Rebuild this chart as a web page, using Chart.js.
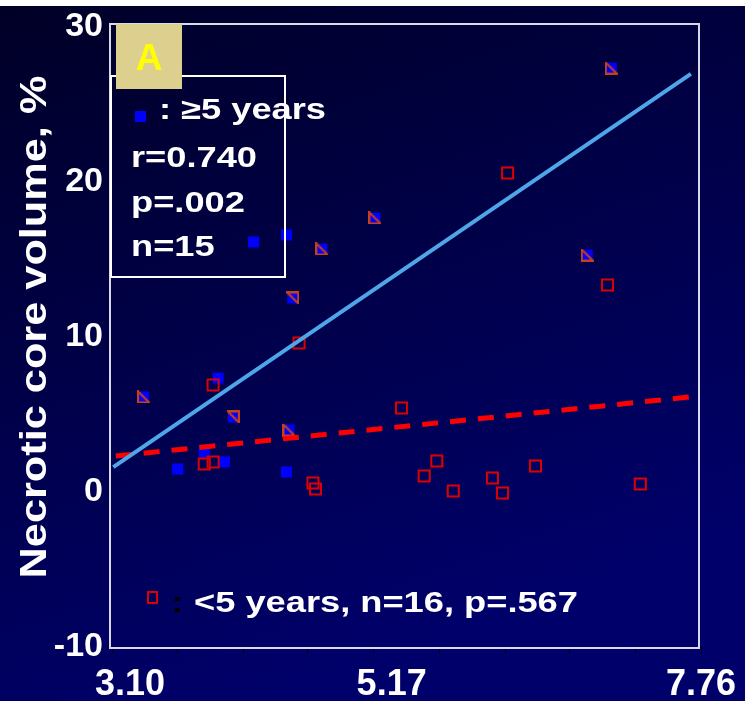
<!DOCTYPE html>
<html>
<head>
<meta charset="utf-8">
<script src="https://cdn.jsdelivr.net/npm/chart.js@4/dist/chart.umd.min.js"></script>
<style>
  html, body { margin: 0; padding: 0; background: #000030; }
  #wrap { width: 745px; height: 701px; }
</style>
</head>
<body>
<div id="wrap"><canvas id="myChart" width="745" height="701"></canvas></div>
<script>
// >=5 years group (blue filled squares)
const longX = [7.05, 5.18, 4.76, 4.22, 4.48, 4.53, 6.86, 3.94, 3.35, 4.06, 4.50, 3.83, 3.99, 3.62, 4.48];
const longY = [27.35, 17.68, 15.68, 16.13, 16.58, 12.52, 15.29, 7.35, 6.13, 4.84, 4.00, 2.58, 1.94, 1.48, 1.29];
// marker overlay seen on some of the blue squares
const longMark = ["LL", "LL", "LL", "", "", "UR", "LL", "", "LL", "UR", "LL", "", "", "", ""];

// <5 years group (red open squares)
const shortX = [6.23, 7.02, 4.58, 3.90, 5.39, 3.83, 3.90, 4.69, 4.71, 5.57, 5.67, 5.80, 6.11, 6.19, 6.45, 7.28];
const shortY = [20.58, 13.35, 9.61, 6.90, 5.42, 1.81, 1.94, 0.58, 0.19, 1.03, 2.00, 0.06, 0.90, -0.06, 1.68, 0.52];

// regression lines (end points)
const fitLongX = [3.11, 7.68];
const fitLongY = [1.61, 26.97];
const fitShortX = [3.13, 7.67];
const fitShortY = [2.32, 6.13];

// axis ticks
const xTicks = [3.10, 3.62, 4.14, 4.65, 5.17, 5.69, 6.21, 6.72, 7.24, 7.76];
const xTickLabels = ["3.10", "5.17", "7.76"];
const yTicks = [-10, 0, 10, 20, 30];

const FONT = "'Liberation Sans', Arial, sans-serif";

function toPts(xs, ys) {
  return xs.map((x, i) => ({ x: x, y: ys[i] }));
}

function markCanvas(kind) {
  const c = document.createElement("canvas");
  c.width = 13; c.height = 13;
  const g = c.getContext("2d");
  g.fillStyle = "#0000ff";
  g.fillRect(1, 1, 11, 11);
  g.strokeStyle = "#c8401a";
  g.lineWidth = 2;
  g.beginPath();
  if (kind === "LL") {
    g.moveTo(1, 1); g.lineTo(1, 12); g.lineTo(12, 12);
  } else {
    g.moveTo(1, 1); g.lineTo(12, 1); g.lineTo(12, 12);
  }
  g.closePath();
  g.stroke();
  return c;
}
const markLL = markCanvas("LL");
const markUR = markCanvas("UR");
const longStyles = longMark.map(m => m === "LL" ? markLL : (m === "UR" ? markUR : "rect"));

function stretchText(ctx, text, x, y, sx, color) {
  ctx.save();
  ctx.translate(x, y);
  ctx.scale(sx, 1);
  ctx.fillStyle = color;
  ctx.fillText(text, 0, 0);
  ctx.restore();
}

const decor = {
  id: "decor",
  beforeDraw(chart) {
    const ctx = chart.ctx;
    const grad = ctx.createLinearGradient(0, 0, 250, 701);
    grad.addColorStop(0, "#000026");
    grad.addColorStop(1, "#00006a");
    ctx.save();
    ctx.fillStyle = grad;
    ctx.fillRect(0, 0, chart.width, chart.height);
    ctx.fillStyle = "#ffffff";
    ctx.fillRect(0, 0, chart.width, 6);
    ctx.restore();
  },
  afterDraw(chart) {
    const ctx = chart.ctx;
    const a = chart.chartArea;
    ctx.save();
    // plot frame (sits slightly off the data area, as in the original)
    ctx.strokeStyle = "#d8d8e8";
    ctx.lineWidth = 2;
    ctx.strokeRect(a.left - 2, a.top - 3, a.right - a.left, a.bottom - a.top + 4);

    // legend box
    ctx.strokeStyle = "#ffffff";
    ctx.lineWidth = 2;
    ctx.strokeRect(111, 76, 174, 201);

    // panel label
    ctx.fillStyle = "#ddd08f";
    ctx.fillRect(116, 24, 66, 65);
    ctx.font = "bold 37px " + FONT;
    ctx.fillStyle = "#ffff00";
    ctx.textAlign = "center";
    ctx.textBaseline = "alphabetic";
    ctx.fillText("A", 149, 70);

    // legend texts
    ctx.textAlign = "left";
    ctx.font = "bold 29px " + FONT;
    ctx.fillStyle = "#0000ff";
    ctx.fillRect(135, 111, 11, 11);
    stretchText(ctx, ": \u22655 years", 159, 119, 1.25, "#ffffff");
    stretchText(ctx, "r=0.740", 131, 167, 1.25, "#ffffff");
    stretchText(ctx, "p=.002", 131, 212, 1.25, "#ffffff");
    stretchText(ctx, "n=15", 131, 256, 1.25, "#ffffff");

    ctx.strokeStyle = "#dd0000";
    ctx.lineWidth = 2;
    ctx.strokeRect(148, 592, 9, 11);
    stretchText(ctx, ":", 171, 612, 1.25, "#000000");
    stretchText(ctx, "<5 years, n=16, p=.567", 194, 612, 1.25, "#ffffff");

    // y axis title
    ctx.font = "bold 37px " + FONT;
    ctx.textAlign = "center";
    ctx.translate(46, 327);
    ctx.rotate(-Math.PI / 2);
    ctx.scale(1.17, 1);
    ctx.fillStyle = "#ffffff";
    ctx.fillText("Necrotic core volume, %", 0, 0);
    ctx.restore();
  }
};

const ctx = document.getElementById("myChart").getContext("2d");
let myChart = new Chart(ctx, {
  type: "scatter",
  data: {
    datasets: [{
      type: "line",
      label: "fit >=5",
      data: toPts(fitLongX, fitLongY),
      borderColor: "#4ea6e8",
      borderWidth: 4,
      pointRadius: 0,
      fill: false,
      order: 0,
    }, {
      type: "line",
      label: "fit <5",
      data: toPts(fitShortX, fitShortY),
      borderColor: "#ff0000",
      borderWidth: 5,
      borderDash: [16, 12],
      pointRadius: 0,
      fill: false,
      order: 0,
    }, {
      label: "<5 years",
      data: toPts(shortX, shortY),
      pointStyle: "rect",
      pointRadius: 7.8,
      backgroundColor: "rgba(0,0,0,0)",
      borderColor: "#dd0000",
      borderWidth: 2,
      order: 1,
    }, {
      label: ">=5 years",
      data: toPts(longX, longY),
      pointStyle: longStyles,
      pointRadius: 7.8,
      backgroundColor: "#0000ff",
      borderColor: "#0000ff",
      borderWidth: 0,
      order: 2,
    }],
  },
  options: {
    responsive: false,
    animation: false,
    events: [],
    layout: { padding: { top: 27, right: 44, left: 0, bottom: 0 } },
    plugins: {
      legend: { display: false },
      tooltip: { enabled: false },
    },
    scales: {
      x: {
        type: "linear",
        min: 3.10,
        max: 7.76,
        afterBuildTicks: s => { s.ticks = xTicks.map(v => ({ value: v })); },
        afterFit: s => { s.height = 54; s.paddingLeft = 0; s.paddingRight = 0; },
        border: { display: false },
        grid: {
          drawOnChartArea: false,
          drawTicks: true,
          tickLength: 6,
          color: "#000000",
        },
        ticks: {
          autoSkip: false,
          maxRotation: 0,
          padding: 10,
          color: "#ffffff",
          font: { size: 36, weight: "bold", family: FONT },
          callback: v => {
            const t = Number(v).toFixed(2);
            if (!xTickLabels.includes(t)) return "";
            // the first two labels sit right of their tick in the original
            return t === "7.76" ? t : "\u2002\u2002" + t;
          },
        },
      },
      y: {
        type: "linear",
        min: -10,
        max: 30,
        afterBuildTicks: s => { s.ticks = yTicks.map(v => ({ value: v })); },
        afterFit: s => { s.width = 112; s.paddingTop = 0; s.paddingBottom = 0; },
        border: { display: false },
        grid: {
          drawOnChartArea: false,
          drawTicks: true,
          tickLength: 4,
          color: "#000000",
        },
        ticks: {
          padding: 5,
          color: "#ffffff",
          font: { size: 34, weight: "bold", family: FONT },
        },
      },
    },
  },
  plugins: [decor],
});
</script>
</body>
</html>
